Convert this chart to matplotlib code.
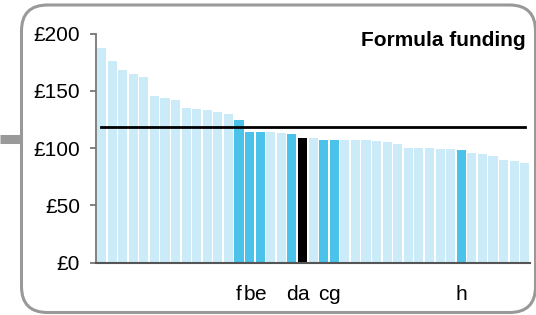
import matplotlib
matplotlib.use("Agg")
import matplotlib.pyplot as plt
from matplotlib.patches import FancyBboxPatch

# funding per bar, sorted high to low
values = [187.5, 176, 168, 164.5, 162, 145.5, 143.5, 142.5, 135.5, 134.5,
          133, 132, 129.5, 125, 114.5, 114.5, 114.5, 113, 112, 108.5,
          108.5, 107.5, 107.5, 107, 107, 107, 106, 105, 104, 100.5,
          100.5, 100.5, 99.5, 99, 98, 96, 94.5, 93.5, 90, 89, 87.5]
highlight = {13: "f", 14: "b", 15: "e", 18: "d", 19: "a", 21: "c", 22: "g", 34: "h"}
black_bar = 19
average = 118.8
yticks = [0, 50, 100, 150, 200]
ytick_labels = ["£0", "£50", "£100", "£150", "£200"]
title = "Formula funding"

light = "#CCEBF8"
blue = "#4BC2EA"

plt.rcParams['font.family'] = ['Liberation Sans', 'DejaVu Sans']

fig = plt.figure(figsize=(5.36, 3.15), dpi=100)

# rounded frame in pixel units
bg = fig.add_axes([0, 0, 1, 1])
bg.set_xlim(0, 536)
bg.set_ylim(315, 0)
bg.axis("off")
bg.plot([0, 21], [138.5, 138.5], color="#999999", lw=6.5, solid_capstyle="butt")
bg.add_patch(FancyBboxPatch((21.5, 5), 514, 307.5,
                            boxstyle="round,pad=0,rounding_size=26",
                            fc="white", ec="#999999", lw=2.2))

ax = fig.add_axes([96.2 / 536, 1 - 262.7 / 315, (530 - 96.2) / 536, (262.7 - 33.7) / 315])
ax.patch.set_alpha(0)

colors = []
for i in range(len(values)):
    if i == black_bar:
        colors.append("black")
    elif i in highlight:
        colors.append(blue)
    else:
        colors.append(light)

x = list(range(len(values)))
ax.bar(x, values, width=0.86, color=colors, zorder=2)
ax.plot([0, len(values) - 1], [average, average], color="black", lw=2, zorder=3)

ax.set_xlim(-0.5, len(values) - 0.5)
ax.set_ylim(0, 200)
ax.set_yticks(yticks)
ax.set_yticklabels(ytick_labels, fontsize=15)
ax.set_xticks(list(highlight.keys()))
ax.set_xticklabels(list(highlight.values()), fontsize=15)
ax.tick_params(axis="x", length=0, pad=16)
ax.tick_params(axis="y", length=4.5, width=1.3, color="#777777", pad=7)

for s in ["top", "right"]:
    ax.spines[s].set_visible(False)
ax.spines["left"].set_color("#777777")
ax.spines["left"].set_linewidth(1.3)
ax.spines["bottom"].set_color("#555555")
ax.spines["bottom"].set_linewidth(1.5)
ax.spines["bottom"].set_zorder(4)

fig.text(526 / 536, 1 - 45.7 / 315, title, ha="right", va="baseline",
         fontsize=15, fontweight="bold")

fig.savefig("out.png", dpi=100)
